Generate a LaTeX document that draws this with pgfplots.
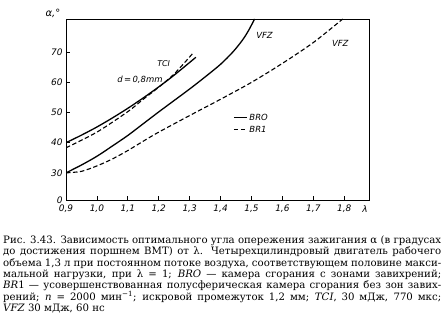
\documentclass[border=0pt]{standalone}
\usepackage{pgfplots}
\pgfplotsset{compat=1.18}
\usepackage{fontspec}
\setmainfont{DejaVu Serif}
\newfontfamily\lab{DejaVu Sans}
\begin{document}
\begin{tikzpicture}
\path[use as bounding box] (0,0) rectangle (444bp,317bp);
\begin{axis}[at={(66bp,117bp)}, anchor=south west, scale only axis,
  width=303bp, height=181bp,
  xmin=0.9, xmax=1.88, ymin=21, ymax=81,
  axis line style={line width=0.9bp},
  tick pos=left, tick align=inside, major tick length=4bp,
  every tick/.style={black, line width=0.8bp},
  xtick={0.9,1.0,1.1,1.2,1.3,1.4,1.5,1.6,1.7,1.8},
  xticklabels={{0,9},{1,0},{1,1},{1,2},{1,3},{1,4},{1,5},{1,6},{1,7},{1,8}},
  ytick={21,30,40,50,60,70},
  yticklabels={0,30,40,50,60,70},
  /pgf/number format/assume math mode=true,
  ticklabel style={font=\lab\itshape\fontsize{9}{9}\selectfont},
  xticklabel style={yshift=-1bp},
  legend style={draw=none, fill=none, at={(axis cs:1.44,50.3)}, anchor=north west,
    font=\lab\itshape\fontsize{8.5}{8.5}\selectfont, row sep=0.5bp, inner sep=0pt,
    cells={anchor=west}},
  legend image code/.code={\draw[#1] (0bp,0bp) -- (13bp,0bp);},
]
\addplot[black, line width=1.3bp, smooth] coordinates {
(0.9,40) (0.95,42.5) (1.0,45.2) (1.05,48.2) (1.1,51.4) (1.15,54.85) (1.2,58.5) (1.25,62.4) (1.32,68.3)};
\addlegendentry{BRO}
\addplot[black, line width=1.1bp, smooth, dash pattern=on 4.5bp off 2.5bp] coordinates {
(0.9,38.3) (1.0,43.5) (1.1,50.3) (1.15,54.4) (1.2,58.4) (1.25,62.8) (1.31,69.6)};
\addlegendentry{BR1}
\addplot[black, line width=1.3bp, smooth, forget plot] coordinates {
(0.9,30) (0.95,32.6) (1.0,35.5) (1.05,38.9) (1.1,42.4) (1.15,46.3) (1.2,50.2) (1.25,54) (1.3,57.8) (1.35,61.8) (1.4,66) (1.44,70.1) (1.47,73.9) (1.49,77.1) (1.51,81)};
\addplot[black, line width=1.1bp, smooth, dash pattern=on 4.5bp off 2.5bp, forget plot] coordinates {
(0.9,30) (0.95,30.5) (1.0,32.3) (1.05,34.6) (1.1,37.4) (1.15,40.5) (1.2,43.5) (1.3,49) (1.4,54.4) (1.5,60) (1.6,66.3) (1.7,73.2) (1.795,81)};
\node[font=\lab\itshape\fontsize{8}{8}\selectfont] at (axis cs:1.216,66.3) {TCI};
\node[font=\lab\itshape\fontsize{8.5}{8.5}\selectfont] at (axis cs:1.139,61) {d\,=\,0,8mm};
\node[font=\lab\itshape\fontsize{8.5}{8.5}\selectfont] at (axis cs:1.542,75.7) {VFZ};
\node[font=\lab\itshape\fontsize{8.5}{8.5}\selectfont] at (axis cs:1.787,73) {VFZ};
\draw[line width=0.8bp] (axis cs:0.9,23.5) ++(-3bp,0) -- ++(6bp,0);
\end{axis}
\node[font=\lab\itshape\fontsize{10}{10}\selectfont] at (53bp,304bp) {α,°};
\node[font=\lab\itshape\fontsize{9}{9}\selectfont] at (365bp,108bp) {λ};
\node[anchor=north west, inner sep=0pt, text width=438bp, align=justify,
  font=\fontsize{10.2}{11.1}\selectfont] at (3bp,81bp) {Рис. 3.43. Зависимость оптимального угла опережения зажигания α (в градусах\linebreak
до достижения поршнем ВМТ) от λ. Четырехцилиндровый двигатель рабочего\linebreak
объема 1,3 л при постоянном потоке воздуха, соответствующем половине макси-\linebreak
мальной нагрузки, при λ = 1; \textit{BRO} — камера сгорания с зонами завихрений;\linebreak
\textit{BR}1 — усовершенствованная полусферическая камера сгорания без зон завих-\linebreak
рений; \textit{n} = 2000 мин\textsuperscript{−1}; искровой промежуток 1,2 мм; \textit{TCI}, 30 мДж, 770 мкс;\linebreak
\textit{VFZ} 30 мДж, 60 нс};
\end{tikzpicture}
\end{document}
